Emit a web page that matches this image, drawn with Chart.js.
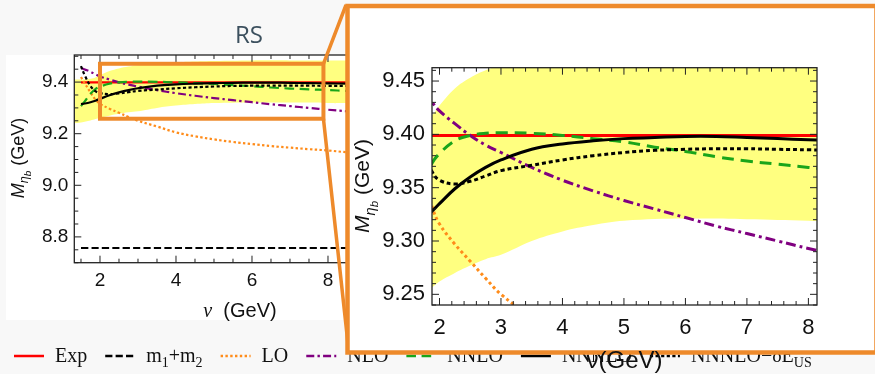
<!DOCTYPE html>
<html>
<head>
<meta charset="utf-8">
<script src="https://cdn.jsdelivr.net/npm/chart.js@4.4.1/dist/chart.umd.min.js"></script>
<style>
  html, body { margin: 0; padding: 0; background: #f8f8f8; }
  #wrap { position: relative; width: 875px; height: 374px; overflow: hidden; }
  #left { position: absolute; left: 0; top: 0; }
  #inset { position: absolute; left: 340px; top: 0; }
</style>
</head>
<body>
<div id="wrap">
  <canvas id="left" width="875" height="374"></canvas>
  <canvas id="inset" width="535" height="374"></canvas>
</div>
<script>
// nu (GeV) grid shared by the curves
const nu      = [1.5, 1.6, 1.75, 1.88, 2, 2.25, 2.5, 2.75, 3, 3.5, 4, 4.5, 5, 5.5, 6, 6.5, 7, 7.5, 8, 8.5, 9];
const lo      = [9.420, 9.395, 9.360, 9.332, 9.316, 9.297, 9.281, 9.265, 9.250, 9.228, 9.205, 9.190, 9.178, 9.168, 9.160, 9.152, 9.146, 9.140, 9.135, 9.128, 9.123];
const nlo     = [9.455, 9.449, 9.440, 9.430, 9.422, 9.410, 9.399, 9.390, 9.383, 9.369, 9.357, 9.347, 9.338, 9.330, 9.322, 9.314, 9.307, 9.300, 9.293, 9.287, 9.282];
const nnlo    = [9.307, 9.325, 9.355, 9.373, 9.382, 9.394, 9.399, 9.401, 9.4015, 9.401, 9.399, 9.396, 9.393, 9.388, 9.384, 9.379, 9.375, 9.372, 9.369, 9.366, 9.363];
const nnnlo   = [9.315, 9.317, 9.322, 9.328, 9.335, 9.349, 9.360, 9.369, 9.376, 9.386, 9.391, 9.394, 9.396, 9.397, 9.398, 9.398, 9.397, 9.396, 9.395, 9.394, 9.393];
const nnnloUS = [9.462, 9.426, 9.385, 9.365, 9.357, 9.3535, 9.356, 9.361, 9.366, 9.371, 9.376, 9.380, 9.383, 9.385, 9.386, 9.3865, 9.3865, 9.386, 9.3855, 9.385, 9.384];

// flat lines
const flatNu = [1.5, 9];
const expMass = [9.399, 9.399];
const m1m2 = [8.757, 8.757];

// uncertainty band
const bandNu   = [1.32, 1.5, 1.75, 1.88, 2, 2.25, 2.5, 2.75, 3, 3.5, 4, 4.5, 5, 6, 7, 8, 9];
const bandLow  = [9.240, 9.243, 9.251, 9.2565, 9.262, 9.270, 9.277, 9.283, 9.287, 9.300, 9.309, 9.315, 9.319, 9.321, 9.3205, 9.319, 9.317];
const bandHigh = [9.410, 9.410, 9.413, 9.418, 9.427, 9.443, 9.453, 9.460, 9.465, 9.472, 9.477, 9.480, 9.482, 9.484, 9.484, 9.484, 9.484];

// ticks
const xTicksMain = [2, 4, 6, 8];
const yTicksMain = [8.8, 9.0, 9.2, 9.4];
const xTicksInset = [2, 3, 4, 5, 6, 7, 8];
const yTicksInset = [9.25, 9.30, 9.35, 9.40, 9.45];

// zoom box drawn in the main panel [nuMin, nuMax, mMin, mMax]
const zoomBox = [2, 7.88, 9.258, 9.471];

const SANS = '"Liberation Sans", Arial, sans-serif';
const SERIF = '"Liberation Serif", "Times New Roman", serif';
const ORANGE = '#ee8a2b';

function pts(xs, ys) {
  return xs.map((x, i) => ({ x: x, y: ys[i] }));
}

function makeSets(w, k) {
  const d = a => a.map(v => v * k);
  return [
    { label: 'Exp', data: pts(flatNu, expMass), borderColor: '#ff0000', borderWidth: w, borderDash: [], order: 6 },
    { label: 'm_1+m_2', data: pts(flatNu, m1m2), borderColor: '#000000', borderWidth: w, borderDash: d([9, 4]), order: 5 },
    { label: 'LO', data: pts(nu, lo), borderColor: '#ff8c1a', borderWidth: w, borderDash: d([3, 3]), order: 4 },
    { label: 'NLO', data: pts(nu, nlo), borderColor: '#800080', borderWidth: w, borderDash: d([10, 4, 3, 4]), order: 3 },
    { label: 'NNLO', data: pts(nu, nnlo), borderColor: '#1aa51a', borderWidth: w, borderDash: d([12, 7]), order: 2 },
    { label: 'NNNLO', data: pts(nu, nnnlo), borderColor: '#000000', borderWidth: w, borderDash: [], order: 0 },
    { label: 'NNNLO\u2212\u03b4E_{US}', data: pts(nu, nnnloUS), borderColor: '#000000', borderWidth: w, borderDash: d([4, 3]), order: 1 },
    { label: '_bandLow', data: pts(bandNu, bandLow), borderWidth: 0, fill: false, order: 10 },
    { label: '_bandHigh', data: pts(bandNu, bandHigh), borderWidth: 0, fill: '-1', backgroundColor: '#ffff80', order: 10 }
  ].map(s => Object.assign({ pointRadius: 0, tension: 0.4 }, s));
}

// text with sub/subsub scripts
function richText(ctx, parts, x, y, size, align, rotate) {
  const scale = [1, 0.7, 0.55], drop = [0, 0.25, 0.42];
  const fontOf = p => (p.it ? 'italic ' : '') + (size * scale[p.lv || 0]).toFixed(1) + 'px ' + (p.serif ? SERIF : SANS);
  ctx.save();
  ctx.translate(x, y);
  if (rotate) ctx.rotate(-Math.PI / 2);
  ctx.textBaseline = 'alphabetic';
  ctx.textAlign = 'left';
  let total = 0;
  parts.forEach(p => { ctx.font = fontOf(p); total += ctx.measureText(p.t).width; });
  let cx = align === 'center' ? -total / 2 : 0;
  parts.forEach(p => {
    ctx.font = fontOf(p);
    ctx.fillText(p.t, cx, size * drop[p.lv || 0]);
    cx += ctx.measureText(p.t).width;
  });
  ctx.restore();
  return total;
}

function parseLabel(s) {
  const parts = [];
  const re = /_\{([^}]*)\}|_(.)/g;
  let last = 0, m;
  while ((m = re.exec(s))) {
    if (m.index > last) parts.push({ t: s.slice(last, m.index), serif: true });
    parts.push({ t: m[1] || m[2], lv: 1, serif: true });
    last = re.lastIndex;
  }
  if (last < s.length) parts.push({ t: s.slice(last), serif: true });
  return parts;
}

// frame with inward ticks on all four sides
function drawFrame(chart, xStep, yStep) {
  const { ctx, chartArea: a, scales: { x, y } } = chart;
  ctx.save();
  ctx.strokeStyle = '#222';
  ctx.lineWidth = 1.3;
  ctx.strokeRect(a.left, a.top, a.right - a.left, a.bottom - a.top);
  ctx.lineWidth = 1;
  ctx.beginPath();
  for (let i = Math.ceil(x.min / xStep); i * xStep <= x.max + 1e-9; i++) {
    const v = i * xStep, px = x.getPixelForValue(v);
    const len = x.ticks.some(t => Math.abs(t.value - v) < 1e-6) ? 7 : 4;
    ctx.moveTo(px, a.bottom); ctx.lineTo(px, a.bottom - len);
    ctx.moveTo(px, a.top); ctx.lineTo(px, a.top + len);
  }
  for (let i = Math.ceil(y.min / yStep - 1e-9); i * yStep <= y.max + 1e-9; i++) {
    const v = i * yStep, py = y.getPixelForValue(v);
    const len = y.ticks.some(t => Math.abs(t.value - v) < 1e-6) ? 7 : 4;
    ctx.moveTo(a.left, py); ctx.lineTo(a.left + len, py);
    ctx.moveTo(a.right, py); ctx.lineTo(a.right - len, py);
  }
  ctx.stroke();
  ctx.restore();
}

const massTitle = [
  { t: 'M', it: true }, { t: '\u03b7', lv: 1, it: true }, { t: 'b', lv: 2, it: true }, { t: ' (GeV)' }
];

const mainDecor = {
  id: 'mainDecor',
  beforeDraw(chart) {
    const ctx = chart.ctx;
    ctx.save();
    ctx.fillStyle = '#f8f8f8';
    ctx.fillRect(0, 0, chart.width, chart.height);
    ctx.fillStyle = '#ffffff';
    ctx.fillRect(6, chart.chartArea.top, 360, 320 - chart.chartArea.top);
    ctx.restore();
  },
  afterDraw(chart) {
    const { ctx, scales: { x, y } } = chart;
    drawFrame(chart, 0.5, 0.05);

    // zoom box and the lines to the inset
    const x0 = x.getPixelForValue(zoomBox[0]), x1 = x.getPixelForValue(zoomBox[1]);
    const y0 = y.getPixelForValue(zoomBox[2]), y1 = y.getPixelForValue(zoomBox[3]);
    ctx.save();
    ctx.strokeStyle = ORANGE;
    ctx.lineWidth = 4;
    ctx.strokeRect(x0, y1, x1 - x0, y0 - y1);
    ctx.lineWidth = 3.5;
    ctx.beginPath();
    ctx.moveTo(x1, y1); ctx.lineTo(346, 5);
    ctx.moveTo(x1, y0); ctx.lineTo(349, 353);
    ctx.stroke();
    ctx.restore();

    // titles
    ctx.save();
    ctx.fillStyle = '#3c505e';
    ctx.font = '24px "Open Sans", ' + SANS;
    ctx.textAlign = 'center';
    ctx.textBaseline = 'middle';
    ctx.fillText('RS', 249, 36);
    ctx.fillStyle = '#111';
    richText(ctx, massTitle, 17.5 + 0.35 * 18, 158, 18, 'center', true);
    richText(ctx, [{ t: '\u03bd', it: true, serif: true }, { t: '  (GeV)' }], 240, 317, 20, 'center');

    // legend
    let lx = 14;
    chart.data.datasets.filter(d => !d.label.startsWith('_')).forEach(d => {
      ctx.save();
      ctx.strokeStyle = d.borderColor;
      ctx.lineWidth = 2.5;
      ctx.setLineDash(d.borderDash || []);
      ctx.beginPath();
      ctx.moveTo(lx, 356); ctx.lineTo(lx + 30, 356);
      ctx.stroke();
      ctx.restore();
      ctx.fillStyle = '#111';
      const w = richText(ctx, parseLabel(d.label), lx + 41, 362, 20, 'left');
      lx += 41 + w + 18;
    });
    ctx.restore();
  }
};

const insetDecor = {
  id: 'insetDecor',
  beforeDraw(chart) {
    const ctx = chart.ctx;
    ctx.save();
    ctx.fillStyle = '#ffffff';
    ctx.fillRect(7.5, 6, 530, 346.5);
    ctx.strokeStyle = ORANGE;
    ctx.lineWidth = 4.5;
    ctx.strokeRect(7.5, 6, 529, 346.5);
    ctx.restore();
  },
  afterDraw(chart) {
    const ctx = chart.ctx;
    drawFrame(chart, 0.2, 0.01);
    ctx.save();
    ctx.fillStyle = '#111';
    richText(ctx, massTitle, 22 + 0.35 * 21, 186, 21, 'center', true);
    richText(ctx, [{ t: '\u03bd(GeV)' }], 284.5, 368, 24, 'center');
    ctx.restore();
  }
};

function axes(xr, yr, xt, yt, xFit, yFit, fontSize, xPad, yPad, digits) {
  return {
    x: {
      type: 'linear', min: xr[0], max: xr[1],
      afterBuildTicks: s => { s.ticks = xt.map(v => ({ value: v })); },
      afterFit: s => { s.height = xFit; },
      grid: { display: false, drawTicks: false },
      border: { display: false },
      ticks: { padding: xPad, maxRotation: 0, color: '#111', font: { size: fontSize, family: SANS }, callback: v => String(v) }
    },
    y: {
      type: 'linear', min: yr[0], max: yr[1],
      afterBuildTicks: s => { s.ticks = yt.map(v => ({ value: v })); },
      afterFit: s => { s.width = yFit; },
      grid: { display: false, drawTicks: false },
      border: { display: false },
      ticks: { padding: yPad, color: '#111', font: { size: fontSize, family: SANS }, callback: v => Number(v).toFixed(digits) }
    }
  };
}

const basePlugins = {
  legend: { display: false },
  tooltip: { enabled: false },
  filler: { propagate: false, drawTime: 'beforeDatasetsDraw' }
};

new Chart(document.getElementById('left'), {
  type: 'line',
  data: { datasets: makeSets(2.2, 0.8) },
  options: {
    responsive: false,
    animation: false,
    layout: { padding: { left: 0, top: 55, right: 509, bottom: 51.3 } },
    scales: axes([1.324, 9], [8.7, 9.505], xTicksMain, yTicksMain, 60, 74.3, 19, 7, 6, 1),
    plugins: basePlugins
  },
  plugins: [mainDecor]
});

new Chart(document.getElementById('inset'), {
  type: 'line',
  data: { datasets: makeSets(3, 1) },
  options: {
    responsive: false,
    animation: false,
    layout: { padding: { left: 0, top: 67.7, right: 58, bottom: 29 } },
    scales: axes([1.878, 8.14], [9.24, 9.4625], xTicksInset, yTicksInset, 40, 92, 22, 10, 7, 2),
    plugins: basePlugins
  },
  plugins: [insetDecor]
});
</script>
</body>
</html>
